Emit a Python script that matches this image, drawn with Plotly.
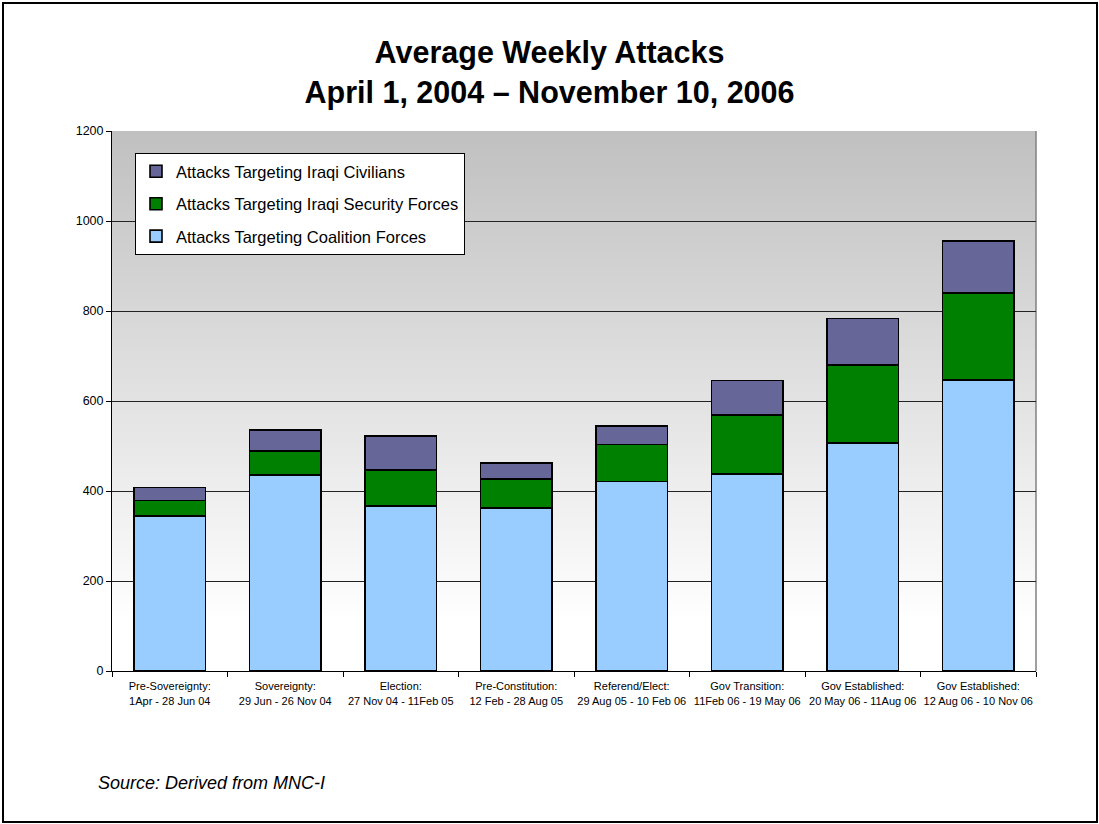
import plotly.graph_objects as go

# Period labels (two lines each)
periods = [
    "Pre-Sovereignty:<br>1Apr - 28 Jun 04",
    "Sovereignty:<br>29 Jun - 26 Nov 04",
    "Election:<br>27 Nov 04 - 11Feb 05",
    "Pre-Constitution:<br>12 Feb - 28 Aug 05",
    "Referend/Elect:<br>29 Aug 05 - 10 Feb 06",
    "Gov Transition:<br>11Feb 06 - 19 May 06",
    "Gov Established:<br>20 May 06 - 11Aug 06",
    "Gov Established:<br>12 Aug 06 - 10 Nov 06",
]
coalition = [344, 436, 367, 362, 421, 438, 507, 647]
security = [35, 53, 80, 65, 82, 131, 173, 193]
civilians = [29, 47, 75, 35, 41, 77, 103, 116]

series_names = [
    "Attacks Targeting Coalition Forces",
    "Attacks Targeting Iraqi Security Forces",
    "Attacks Targeting Iraqi Civilians",
]
series_colors = ["#99CCFF", "#008000", "#666699"]
legend_ranks = [3, 2, 1]
y_ticks = [0, 200, 400, 600, 800, 1000, 1200]

FONT = "Liberation Sans, Arial, sans-serif"

fig = go.Figure()
for i, (name, vals, col) in enumerate(zip(series_names, [coalition, security, civilians], series_colors)):
    fig.add_trace(go.Bar(
        x=periods, y=vals, name=name,
        marker=dict(color=col, line=dict(color="#000000", width=1.6)),
        legendgroup=f"g{i}", legendrank=legend_ranks[i],
    ))

# Plot-area background: vertical grey-to-white gradient built from overlapping bands
shapes = []
top_px, white_px, bottom_px = 131, 623, 671
n_bands = 120
for k in range(n_bands):
    y_hi = 1 - k / n_bands
    y_lo = max(0.0, 1 - (k + 1.6) / n_bands)
    px_mid = top_px + (k + 0.5) / n_bands * (bottom_px - top_px)
    t = min(1.0, (px_mid - top_px) / (white_px - top_px))
    g = int(round(192 + t * (255 - 192)))
    shapes.append(dict(type="rect", xref="paper", yref="paper", x0=0, x1=1,
                       y0=y_lo, y1=y_hi, fillcolor=f"rgb({g},{g},{g})",
                       line=dict(width=0), layer="below"))

# right edge of plot area
shapes.append(dict(type="line", xref="paper", yref="paper", x0=1, x1=1, y0=0, y1=1,
                   line=dict(color="#808080", width=1.5), layer="below"))
# outer frame around the whole figure
shapes.append(dict(type="rect", xref="paper", yref="paper",
                   x0=(3 - 112) / 924, x1=(1097 - 112) / 924,
                   y0=(671 - 822) / 540, y1=(671 - 3) / 540,
                   line=dict(color="#000000", width=2), fillcolor="rgba(0,0,0,0)"))

fig.update_layout(
    width=1099, height=824,
    margin=dict(l=112, r=63, t=131, b=153),
    paper_bgcolor="white",
    plot_bgcolor="white",
    barmode="stack",
    bargap=0.38,
    font=dict(family=FONT, color="#000000"),
    title=dict(
        text="Average Weekly Attacks<br>April 1, 2004 – November 10, 2006",
        font=dict(family=FONT, size=30.5, color="#000000", weight="bold"),
        x=0.5, xref="container", xanchor="center",
        y=1 - 63 / 824, yref="container", yanchor="top",
    ),
    xaxis=dict(
        showgrid=False, showline=True, linecolor="#000000", linewidth=1,
        ticks="outside", ticklen=5, tickcolor="#000000", tickson="boundaries",
        tickfont=dict(family=FONT, size=11, color="#000000"),
        tickangle=0, ticklabelstandoff=5,
    ),
    yaxis=dict(
        range=[0, 1200], tickvals=y_ticks,
        showgrid=True, gridcolor="#222222", gridwidth=1,
        showline=True, linecolor="#000000", linewidth=1,
        ticks="outside", ticklen=5, tickcolor="#000000",
        tickfont=dict(family=FONT, size=12.5, color="#000000"),
        zeroline=False,
    ),
    legend=dict(
        x=(135 - 112) / 924, y=(671 - 153) / 540, xanchor="left", yanchor="top",
        xref="paper", yref="paper",
        bgcolor="white", bordercolor="#000000", borderwidth=1,
        font=dict(family=FONT, size=16.5, color="#000000"),
        traceorder="grouped", tracegroupgap=8,
        itemwidth=30,
    ),
    shapes=shapes,
    annotations=[dict(
        text="<i>Source: Derived from MNC-I</i>",
        xref="paper", yref="paper",
        x=(96 - 112) / 924, y=(671 - 783) / 540,
        xanchor="left", yanchor="middle", showarrow=False,
        font=dict(family=FONT, size=18, color="#000000"),
    )],
)

fig.write_html("out.html")
